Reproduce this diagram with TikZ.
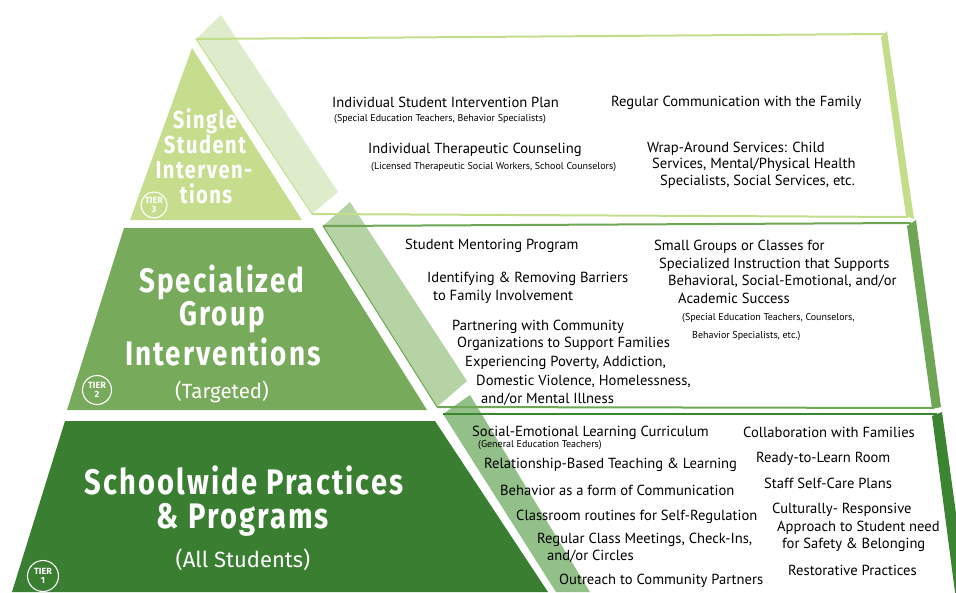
\documentclass[tikz,border=0pt]{standalone}
\usepackage{fontspec}
\setmainfont{PT Sans}
\newfontfamily\ttlfont{Fira Sans}[FakeStretch=0.82,LetterSpace=6,BoldFont={* Bold}]
\newfontfamily\subfont{Fira Sans}
\definecolor{tthree}{HTML}{C7DD8E}
\definecolor{tthreeband}{HTML}{DFECCB}
\definecolor{tthreeline}{HTML}{C2DE8A}
\definecolor{ttwo}{HTML}{78AA5C}
\definecolor{ttwoband}{HTML}{B6D3A6}
\definecolor{ttwoline}{HTML}{6FA656}
\definecolor{tone}{HTML}{3A7E31}
\definecolor{toneband}{HTML}{93BF88}
\definecolor{toneline}{HTML}{3B8432}
\tikzset{
  body/.style={anchor=base west,inner sep=0pt,font=\fontsize{14.6}{16}\selectfont},
  small/.style={anchor=base west,inner sep=0pt,font=\fontsize{10}{11}\selectfont},
  ttl/.style={anchor=base,inner sep=0pt,text=white},
  badge/.style={circle,draw=white,line width=1.1pt,text=white,inner sep=0pt,align=center,font=\subfont\bfseries\fontsize{9}{9.5}\selectfont},
}
\begin{document}
\begin{tikzpicture}[x=1pt,y=-1pt]
\useasboundingbox (0,0) rectangle (956,592);
\begin{scope}
\clip (0,0) rectangle (956,592);
% pyramid
\fill[tthree] (192,48) -- (302,220) -- (130,220) -- cycle;
\fill[ttwo] (124,228) -- (313,228) -- (427,410) -- (67,410) -- cycle;
\fill[tone] (65,421) -- (435,421) -- (548,592) -- (12,592) -- cycle;
% side bands
\fill[tthreeband] (196,39) -- (221,15) -- (338,192) -- (312,214) -- cycle;
\fill[ttwoband] (323,226) -- (350,202) -- (467,381) -- (437,407) -- cycle;
\fill[toneband] (443,414) -- (470,395) -- (590,592) -- (556,592) -- cycle;
% right bands
\fill[tthreeline] (881,37) -- (887,31) -- (914,219) -- (906,216) -- cycle;
\fill[ttwoline] (907,226) -- (916,220) -- (941,407) -- (932,409) -- cycle;
\fill[toneline] (932,416) -- (942,412) -- (968,600) -- (956,600) -- cycle;
% frame lines
\draw[tthreeline,line width=2pt] (196,39) -- (884,34);
\draw[tthreeline,line width=2pt] (312,214) -- (908,217);
\draw[tthreeline,line width=1pt] (196,39) -- (312,214);
\draw[ttwoline,line width=2pt] (323,226) -- (911,223);
\draw[ttwoline,line width=2pt] (437,407) -- (934,408);
\draw[ttwoline,line width=1pt] (323,226) -- (437,407);
\draw[toneline,line width=2pt] (443,414) -- (937,414);
\end{scope}
% titles
\node[ttl,font=\ttlfont\bfseries\fontsize{24.5}{26}\selectfont] (s1) at (205,128) {Single};
\node[ttl,font=\ttlfont\bfseries\fontsize{24.5}{26}\selectfont] (s2) at (205,153) {Student};
\node[ttl,font=\ttlfont\bfseries\fontsize{24.5}{26}\selectfont] (s3) at (204,178) {Interven-};
\node[ttl,font=\ttlfont\bfseries\fontsize{24.5}{26}\selectfont] (s4) at (206,203) {tions};
\node[ttl,font=\ttlfont\bfseries\fontsize{34}{36}\selectfont] (g1) at (222,292) {Specialized};
\node[ttl,font=\ttlfont\bfseries\fontsize{34}{36}\selectfont] (g2) at (222,325) {Group};
\node[ttl,font=\ttlfont\bfseries\fontsize{34}{36}\selectfont] (g3) at (223,365) {Interventions};
\node[ttl,font=\subfont\fontsize{20.5}{22}\selectfont] (g4) at (222,398) {(Targeted)};
\node[ttl,font=\ttlfont\bfseries\fontsize{35.5}{37}\selectfont] (w1) at (244,494) {Schoolwide Practices};
\node[ttl,font=\ttlfont\bfseries\fontsize{35.5}{37}\selectfont] (w2) at (243,528) {\& Programs};
\node[ttl,font=\subfont\fontsize{22}{24}\selectfont] (w3) at (243,567) {(All Students)};
% badges
\node[badge,minimum size=26pt] (b3) at (154,205) {TIER\\3};
\node[badge,minimum size=29pt] (b2) at (97,390) {TIER\\2};
\node[badge,minimum size=31pt] (b1) at (43,576) {TIER\\1};
% tier 3 texts
\node[body] (a1) at (332,107) {Individual Student Intervention Plan};
\node[small] (a2) at (334,121) {(Special Education Teachers, Behavior Specialists)};
\node[body] (a3) at (368,153) {Individual Therapeutic Counseling};
\node[small] (a4) at (371,169) {(Licensed Therapeutic Social Workers, School Counselors)};
\node[body] (a5) at (611,106) {Regular Communication with the Family};
\node[body] (a6) at (647,152) {Wrap-Around Services: Child};
\node[body] (a7) at (652,168) {Services, Mental/Physical Health};
\node[body] (a8) at (660,185) {Specialists, Social Services, etc.};
% tier 2 texts
\node[body] (c1) at (405,249) {Student Mentoring Program};
\node[body] (c2) at (427,282) {Identifying \& Removing Barriers};
\node[body] (c3) at (433,300) {to Family Involvement};
\node[body] (c4) at (452,330) {Partnering with Community};
\node[body] (c5) at (457,347) {Organizations to Support Families};
\node[body] (c6) at (465,366) {Experiencing Poverty, Addiction,};
\node[body] (c7) at (476,385) {Domestic Violence, Homelessness,};
\node[body] (c8) at (481,403) {and/or Mental Illness};
\node[body] (d1) at (654,250) {Small Groups or Classes for};
\node[body] (d2) at (659,268) {Specialized Instruction that Supports};
\node[body] (d3) at (668,285) {Behavioral, Social-Emotional, and/or};
\node[body] (d4) at (678,303) {Academic Success};
\node[small] (d5) at (682,320) {(Special Education Teachers, Counselors,};
\node[small] (d6) at (692,338) {Behavior Specialists, etc.)};
% tier 1 texts
\node[body] (e1) at (472,436) {Social-Emotional Learning Curriculum};
\node[small] (e2) at (478,447) {(General Education Teachers)};
\node[body] (e3) at (484,468) {Relationship-Based Teaching \& Learning};
\node[body] (e4) at (500,495) {Behavior as a form of Communication};
\node[body] (e5) at (516,520) {Classroom routines for Self-Regulation};
\node[body] (e6) at (537,543) {Regular Class Meetings, Check-Ins,};
\node[body] (e7) at (547,560) {and/or Circles};
\node[body] (e8) at (559,584) {Outreach to Community Partners};
\node[body] (f1) at (743,437) {Collaboration with Families};
\node[body] (f2) at (756,462) {Ready-to-Learn Room};
\node[body] (f3) at (764,488) {Staff Self-Care Plans};
\node[body] (f4) at (772,513) {Culturally- Responsive};
\node[body] (f5) at (777,531) {Approach to Student need};
\node[body] (f6) at (782,548) {for Safety \& Belonging};
\node[body] (f7) at (788,575) {Restorative Practices};
\end{tikzpicture}
\end{document}
